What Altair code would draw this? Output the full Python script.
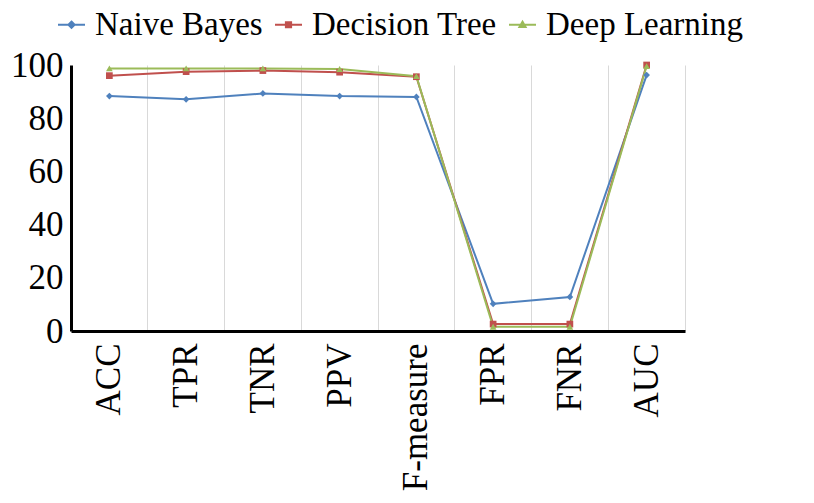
import altair as alt
import pandas as pd

categories = ["ACC", "TPR", "TNR", "PPV", "F-measure", "FPR", "FNR", "AUC"]
models = ["Naive Bayes", "Decision Tree", "Deep Learning"]
naive_bayes = [88.3, 87.1, 89.3, 88.3, 88.0, 10.2, 12.8, 96.2]
decision_tree = [96.0, 97.5, 97.9, 97.3, 95.6, 2.6, 2.6, 100.0]
deep_learning = [98.7, 98.7, 98.7, 98.5, 95.8, 1.6, 1.6, 99.6]
y_ticks = [0, 20, 40, 60, 80, 100]

colors = ["#4F81BD", "#C0504D", "#9BBB59"]
marker_shapes = ["diamond", "square", "triangle-up"]
legend_paths = [
    "M-1,0L1,0M0,-0.24L0.24,0L0,0.24L-0.24,0Z",
    "M-1,0L1,0M-0.2,-0.2L0.2,-0.2L0.2,0.2L-0.2,0.2Z",
    "M-1,0L1,0M0,-0.24L0.24,0.18L-0.24,0.18Z",
]

rows = []
for m, vals in zip(models, [naive_bayes, decision_tree, deep_learning]):
    for c, v in zip(categories, vals):
        rows.append({"metric": c, "model": m, "value": v})
df = pd.DataFrame(rows)

FONT = "Liberation Serif"
LEGEND_FS = 33
xscale = alt.Scale(type="band", paddingInner=0, paddingOuter=0, domain=categories)
yscale = alt.Scale(domain=[0, 100], nice=False)
color = alt.Color("model:N", scale=alt.Scale(domain=models, range=colors), legend=None)

base = alt.Chart(df)

label_x_axis = alt.Axis(
    orient="bottom", labelAngle=-90, labelFont=FONT, labelFontSize=35, labelColor="black",
    labelPadding=12, ticks=False, grid=False, domainColor="black", domainWidth=3,
    title=None,
)
y_axis = alt.Axis(
    orient="left", values=y_ticks, labelFont=FONT, labelFontSize=35, labelColor="black",
    labelPadding=8, ticks=False, grid=False, domainColor="black", domainWidth=3,
    title=None,
)
grid_axis = alt.Axis(
    orient="top", grid=True, gridColor="#D9D9D9", gridWidth=1, bandPosition=1, labels=False,
    ticks=False, domain=False, title=None,
)

lines = base.mark_line(strokeWidth=2).encode(
    x=alt.X("metric:N", sort=categories, scale=xscale, axis=label_x_axis),
    y=alt.Y("value:Q", scale=yscale, axis=y_axis),
    color=color,
)

point_layers = []
for m, s in zip(models, marker_shapes):
    point_layers.append(
        base.transform_filter(alt.datum.model == m)
        .mark_point(shape=s, filled=True, size=45, opacity=1)
        .encode(
            x=alt.X("metric:N", sort=categories, scale=xscale, axis=None),
            y=alt.Y("value:Q", scale=yscale, axis=y_axis),
            color=color,
        )
    )

def mk_legend():
    return alt.Legend(
        title=None, orient="none", legendX=-16, legendY=-57, direction="horizontal",
        labelFont=FONT, labelFontSize=LEGEND_FS, labelColor="black", symbolSize=729,
        symbolStrokeWidth=1.8, symbolOpacity=1, columnPadding=8, labelOffset=7,
        labelLimit=400,
    )

legend_layer = base.mark_point(opacity=0).encode(
    x=alt.X("metric:N", sort=categories, scale=xscale, axis=grid_axis),
    y=alt.Y("value:Q", scale=yscale, axis=y_axis),
    fill=alt.Fill("model:N", scale=alt.Scale(domain=models, range=colors), legend=mk_legend()),
    stroke=alt.Stroke("model:N", scale=alt.Scale(domain=models, range=colors), legend=mk_legend()),
    shape=alt.Shape("model:N", scale=alt.Scale(domain=models, range=legend_paths), legend=mk_legend()),
)

chart = (
    alt.layer(legend_layer, lines, *point_layers)
    .resolve_axis(x="independent")
    .properties(width=614, height=266, padding={"left": 2, "top": 0, "right": 0, "bottom": 0})
    .configure(font=FONT, style={"guide-label": {"font": FONT, "fill": "black"}})
    .configure_view(stroke=None)
    .configure_legend(labelFont=FONT, labelFontSize=LEGEND_FS, labelColor="black")
    .configure_axis(labelFont=FONT)
)

chart.save("out.html", embed_options={"renderer": "svg", "actions": False})
